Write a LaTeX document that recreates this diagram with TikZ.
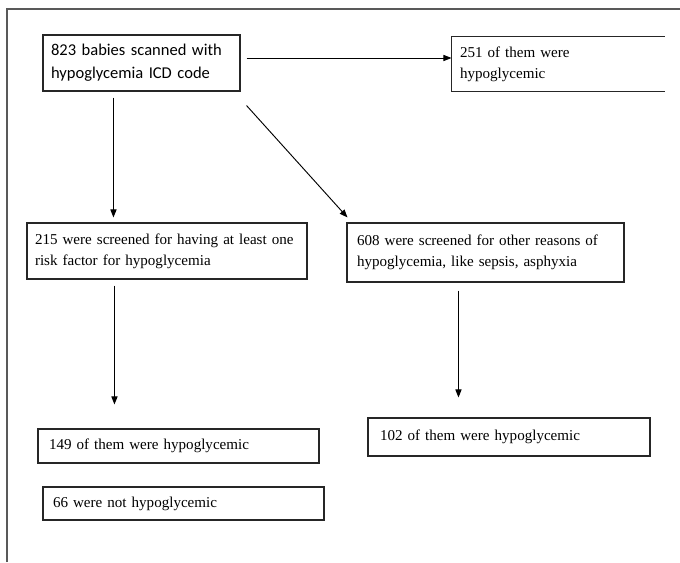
\documentclass[tikz,border=0pt]{standalone}
\usepackage{fontspec}
\setmainfont{Liberation Serif}
\newfontfamily\calfont{Carlito}
\usetikzlibrary{arrows.meta,calc}
\begin{document}
\begin{tikzpicture}[x=0.75pt,y=-0.75pt,
  box/.style={draw=black!85,line width=0.8pt,rectangle,align=left,anchor=center,
    inner ysep=0pt,font=\fontsize{11.3pt}{16pt}\selectfont},
  arr/.style={draw=black,line width=0.7pt,-{Triangle[length=6pt,width=4.6pt]}},
  frame/.style={draw=black!65,line width=1.4pt}]
\useasboundingbox (0,0) rectangle (680,562);
\draw[frame] (7,562) -- (7,9) -- (680,9);
% boxes
\node[box,font=\calfont\fontsize{12.4pt}{17pt}\selectfont,minimum width=197*0.75pt,minimum height=56*0.75pt,text width=181*0.75pt,inner xsep=8*0.75pt] (A) at (141.5,63)
  {\mbox{823 babies scanned with}\\\mbox{hypoglycemia ICD code}};
\node[box,draw=none,minimum width=212*0.75pt,minimum height=54*0.75pt,text width=196*0.75pt,inner xsep=8*0.75pt] (B) at (558,64)
  {\mbox{251 of them were}\\\mbox{hypoglycemic}};
\draw[black!85,line width=0.8pt] (B.north east) -- (B.north west) -- (B.south west) -- (B.south east);
\node[box,minimum width=280*0.75pt,minimum height=56*0.75pt,text width=264*0.75pt,inner xsep=8*0.75pt] (C) at (167,251)
  {\mbox{215 were screened for having at least one}\\\mbox{risk factor for hypoglycemia}};
\node[box,minimum width=277*0.75pt,minimum height=59*0.75pt,text width=257*0.75pt,inner xsep=10*0.75pt] (D) at (485.5,252.5)
  {\mbox{608 were screened for other reasons of}\\\mbox{hypoglycemia, like sepsis, asphyxia}};
\node[box,minimum width=281*0.75pt,minimum height=34*0.75pt,text width=259*0.75pt,inner xsep=11*0.75pt] (E) at (178.5,446)
  {\mbox{149 of them were hypoglycemic}};
\node[box,minimum width=281*0.75pt,minimum height=33*0.75pt,text width=261*0.75pt,inner xsep=10*0.75pt] (F) at (183.5,503.5)
  {\mbox{66 were not hypoglycemic}};
\node[box,minimum width=282*0.75pt,minimum height=38*0.75pt,text width=258*0.75pt,inner xsep=12*0.75pt] (G) at (509,437)
  {\mbox{102 of them were hypoglycemic}};
% connectors
\coordinate (s1) at ($(A.east)+(6,-5)$);
\draw[arr] (s1) -- (s1 -| B.west);
\draw[arr] ($(A.south west)+(71,6)$) -- ($(C.north west)+(87,-5)$);
\draw[arr] ($(A.south east)+(6,14)$) -- ($(D.north west)+(1,-5)$);
\draw[arr] ($(C.south west)+(88,6)$) -- ($(E.north west)+(77,-24)$);
\draw[arr] ($(D.south west)+(112,8)$) -- ($(G.north west)+(91,-20)$);
\end{tikzpicture}
\end{document}
